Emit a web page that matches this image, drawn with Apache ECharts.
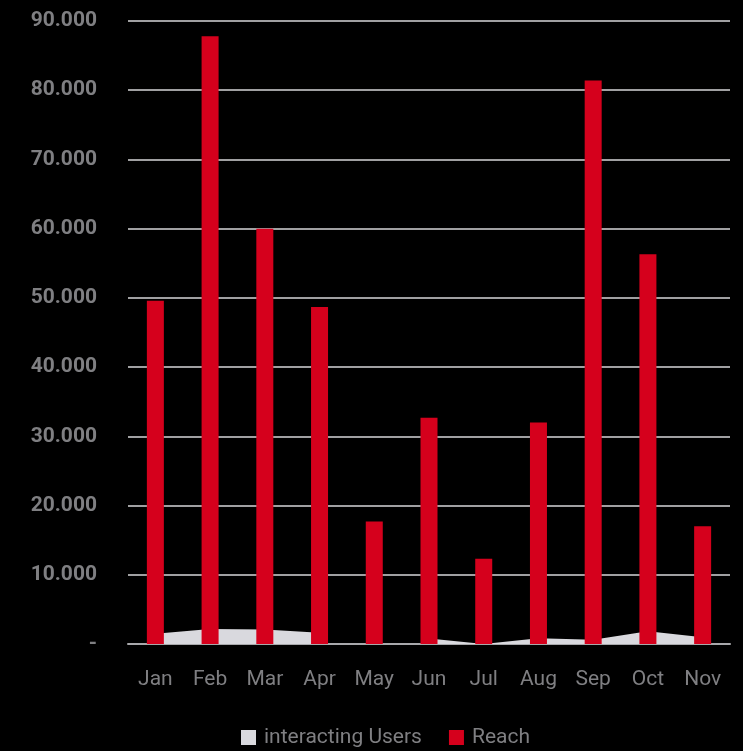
<!DOCTYPE html>
<html>
<head>
<meta charset="utf-8">
<script src="https://cdn.jsdelivr.net/npm/echarts@6/dist/echarts.min.js"></script>
<style>
html,body{margin:0;padding:0;background:#000;}
#chart{width:743px;height:751px;}
</style>
</head>
<body>
<div id="chart"></div>
<script>
const categories = ['Jan','Feb','Mar','Apr','May','Jun','Jul','Aug','Sep','Oct','Nov'];
const reach = [49600, 87800, 60000, 48700, 17700, 32700, 12300, 32000, 81400, 56300, 17000];
const interactingUsers = [1490, 2170, 2100, 1620, null, 800, 0, 820, 600, 1850, 980];
const yTicks = [0, 10000, 20000, 30000, 40000, 50000, 60000, 70000, 80000, 90000];

const chart = echarts.init(document.getElementById('chart'), null, {renderer:'canvas'});
const font = 'Roboto, "DejaVu Sans", sans-serif';
chart.setOption({
  backgroundColor: '#000',
  animation: false,
  grid: {left: 128, right: 13, top: 21, bottom: 107},
  legend: {
    left: 236, top: 722,
    itemWidth: 15, itemHeight: 15, itemGap: 27,
    textStyle: {color: '#7f7f82', fontSize: 21, fontFamily: font, padding: [0,0,0,3]},
    data: [
      {name: 'interacting Users', icon: 'rect', itemStyle: {color: '#d9d9de'}},
      {name: 'Reach', icon: 'rect', itemStyle: {color: '#d5001c'}}
    ]
  },
  xAxis: {
    type: 'category',
    data: categories,
    axisLine: {lineStyle: {color: '#a8a8ab', width: 2}},
    axisTick: {show: false},
    axisLabel: {color: '#7f7f82', fontSize: 21, fontFamily: font, margin: 25}
  },
  yAxis: {
    type: 'value',
    min: yTicks[0], max: yTicks[yTicks.length-1], interval: yTicks[1]-yTicks[0],
    axisLine: {show: false},
    axisTick: {show: false},
    splitLine: {lineStyle: {color: '#d6d6d8', width: 1.5}},
    axisLabel: {
      color: '#7f7f82', fontSize: 21, fontWeight: 'bold', fontFamily: font, margin: 31,
      formatter: v => v === 0 ? '-' : (v/1000) + '.000'
    }
  },
  series: [
    {
      name: 'interacting Users',
      type: 'line',
      data: interactingUsers,
      symbol: 'none',
      connectNulls: false,
      lineStyle: {width: 0, color: '#d9d9de'},
      itemStyle: {color: '#d9d9de'},
      areaStyle: {color: '#d9d9de', opacity: 1},
      z: 1
    },
    {
      name: 'Reach',
      type: 'bar',
      data: reach,
      barWidth: 17,
      itemStyle: {color: '#d5001c'},
      z: 3
    }
  ]
});
</script>
</body>
</html>
